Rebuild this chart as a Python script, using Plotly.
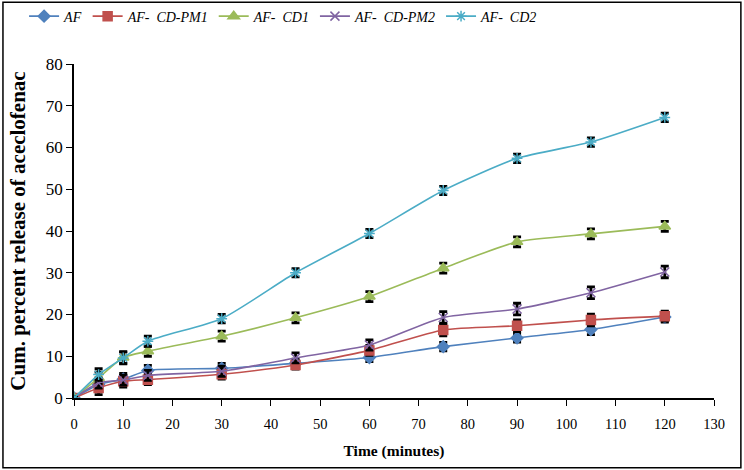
import plotly.graph_objects as go

# Tempo de coleta (min)
time_min = [0, 5, 10, 15, 30, 45, 60, 75, 90, 105, 120]

af = [0, 3.2, 4.5, 6.6, 7.1, 8.3, 9.7, 12.3, 14.4, 16.4, 19.4]
af_cd_pm1 = [0, 2.4, 4.0, 4.4, 5.7, 7.9, 11.4, 16.3, 17.3, 18.7, 19.6]
af_cd1 = [0, 4.8, 9.7, 11.2, 14.8, 19.2, 24.3, 31.1, 37.4, 39.3, 41.1]
af_cd_pm2 = [0, 3.6, 4.3, 5.4, 6.4, 9.6, 12.7, 19.3, 21.3, 25.2, 30.2]
af_cd2 = [0, 5.6, 9.6, 13.6, 19.0, 30.0, 39.4, 49.7, 57.4, 61.3, 67.2]

err_af = [0.4, 1.0, 1.4, 1.2, 1.2, 1.0, 1.0, 1.0, 1.0, 1.2, 1.2]
err_pm1 = [0.4, 1.6, 1.4, 1.2, 1.2, 1.0, 1.2, 1.4, 1.4, 1.4, 1.2]
err_cd1 = [0.4, 1.4, 1.4, 1.2, 1.2, 1.2, 1.2, 1.2, 1.2, 1.2, 1.2]
err_pm2 = [0.4, 1.2, 1.2, 1.2, 1.2, 1.2, 1.2, 1.4, 1.4, 1.4, 1.4]
err_cd2 = [0.4, 1.4, 1.4, 1.2, 1.0, 1.0, 1.0, 1.0, 1.0, 1.0, 1.0]

series_names = ['AF', 'AF-  CD-PM1', 'AF-  CD1', 'AF-  CD-PM2', 'AF-  CD2']

BLUE = '#4F81BD'
RED = '#C0504D'
GREEN = '#9BBB59'
PURPLE = '#8064A2'
CYAN = '#4BACC6'

series = [
    (series_names[0], af, err_af, BLUE, 'diamond', 9),
    (series_names[1], af_cd_pm1, err_pm1, RED, 'square', 9),
    (series_names[2], af_cd1, err_cd1, GREEN, 'triangle-up', 10),
    (series_names[3], af_cd_pm2, err_pm2, PURPLE, 'x-thin-open', 9),
    (series_names[4], af_cd2, err_cd2, CYAN, 'asterisk-open', 9),
]

fig = go.Figure()
for name, vals, errs, color, symbol, size in series:
    fig.add_trace(go.Scatter(
        x=time_min, y=vals, name=name, mode='lines+markers',
        line=dict(color=color, width=1.6, shape='spline', smoothing=0.6),
        marker=dict(color=color, symbol=symbol, size=size,
                    line=dict(color=color, width=1.5)),
        error_y=dict(type='data', array=errs, color='black',
                     thickness=2.8, width=4),
    ))

SERIF = 'Liberation Serif, DejaVu Serif, serif'

fig.update_layout(
    width=744, height=470,
    paper_bgcolor='white', plot_bgcolor='white',
    margin=dict(l=74, r=30, t=64, b=72, autoexpand=False),
    font=dict(family=SERIF, color='black', size=15),
    showlegend=True,
    legend=dict(
        orientation='h', x=-0.078, xanchor='left', y=1.19, yanchor='top',
        font=dict(family=SERIF, size=14, style='italic'),
        bgcolor='rgba(0,0,0,0)', itemwidth=30, tracegroupgap=0,
    ),
    xaxis=dict(
        range=[0, 130], tickmode='linear', tick0=0, dtick=10,
        showgrid=False, zeroline=False, showline=True, linecolor='black',
        linewidth=1.5, ticks='outside', ticklen=6, tickcolor='black',
        tickfont=dict(size=14.5), ticklabelstandoff=6, automargin=False,
        title=dict(text='<b>Time (minutes)</b>', font=dict(size=15.5), standoff=14),
    ),
    yaxis=dict(
        range=[0, 80], tickmode='linear', tick0=0, dtick=10,
        showgrid=False, zeroline=False, showline=True, linecolor='black',
        linewidth=1.5, ticks='outside', ticklen=6, tickcolor='black',
        tickfont=dict(size=17), automargin=False,
        title=dict(text='<b>Cum. percent release of aceclofenac</b>',
                   font=dict(size=21), standoff=14),
    ),
    shapes=[dict(type='rect', xref='paper', yref='paper',
                 x0=-0.111, x1=1.042, y0=-0.209, y1=1.185,
                 line=dict(color='black', width=1.5))],
)

fig.write_html(
    "out.html",
    config={'displayModeBar': False},
    post_script="document.body.style.margin='0';document.body.style.overflow='hidden';",
)
